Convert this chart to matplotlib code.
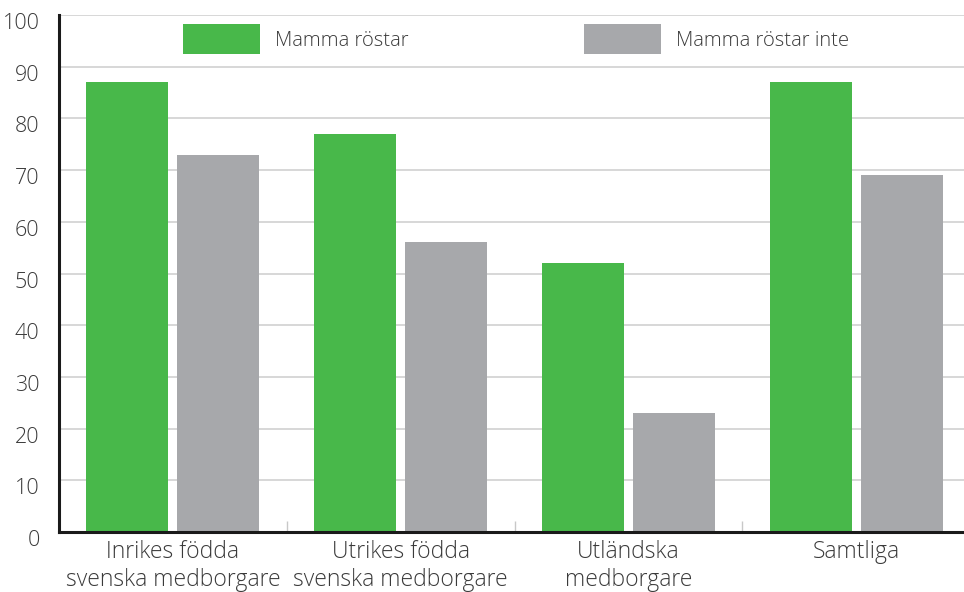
"""Bar chart: Mamma röstar / Mamma röstar inte."""

import matplotlib.pyplot as plt
import numpy as np
from matplotlib.transforms import ScaledTranslation

categories = ["Inrikes födda\nsvenska medborgare", "Utrikes födda\nsvenska medborgare",
              "Utländska\nmedborgare", "Samtliga"]
series_names = ["Mamma röstar", "Mamma röstar inte"]
votes = [87, 77, 52, 87]
no_votes = [73, 56, 23, 69]
y_ticks = list(range(0, 101, 10))

GREEN = "#48b84a"
GREY = "#a7a8ab"
TEXT = "#3a3a3a"

plt.rcParams["font.family"] = ["Open Sans", "DejaVu Sans"]

W, H = 964, 592
fig = plt.figure(figsize=(W / 100, H / 100), dpi=100)
ax = fig.add_axes([59 / W, 60 / H, (970 - 59) / W, (532 - 15) / H])

x = np.arange(len(categories))
width = 0.36
ax.bar(x - 0.2, votes, width, color=GREEN, label=series_names[0], zorder=2)
ax.bar(x + 0.2, no_votes, width, color=GREY, label=series_names[1], zorder=2)

ax.set_xlim(-0.5, 3.5)
ax.set_ylim(0, 100)
ax.set_yticks(y_ticks)
ax.set_yticklabels([str(v) for v in y_ticks], fontsize=15.5, color=TEXT, fontweight="light")
ax.yaxis.grid(True, color="#d4d4d4", linewidth=1.3, zorder=0)
ax.set_axisbelow(True)
ax.tick_params(axis="y", length=0, pad=14)
for lab in ax.get_yticklabels():
    lab.set_transform(lab.get_transform() + ScaledTranslation(0, -6 / 100, fig.dpi_scale_trans))

ax.set_xticks(x)
ax.set_xticklabels(categories, fontsize=16.5, color=TEXT, fontweight="light", linespacing=1.2)
ax.tick_params(axis="x", length=0, pad=6)
ax.set_xticks(x[:-1] + 0.5, minor=True)
ax.tick_params(axis="x", which="minor", direction="in", length=8, width=1, color="#c8c8c8")

for side in ("top", "right"):
    ax.spines[side].set_visible(False)
for side in ("left", "bottom"):
    ax.spines[side].set_linewidth(2.2)
    ax.spines[side].set_color("#1a1a1a")
    ax.spines[side].set_zorder(3)

ax.legend(loc="upper left", bbox_to_anchor=(183 / W, 1 - 24 / H), bbox_transform=fig.transFigure,
          ncol=2, frameon=False, handlelength=3.83, handleheight=1.95,
          handletextpad=0.75, columnspacing=8.7, borderpad=0, borderaxespad=0,
          labelcolor=TEXT, prop={"weight": "light", "size": 14.5})

fig.savefig("out.png", dpi=100)
